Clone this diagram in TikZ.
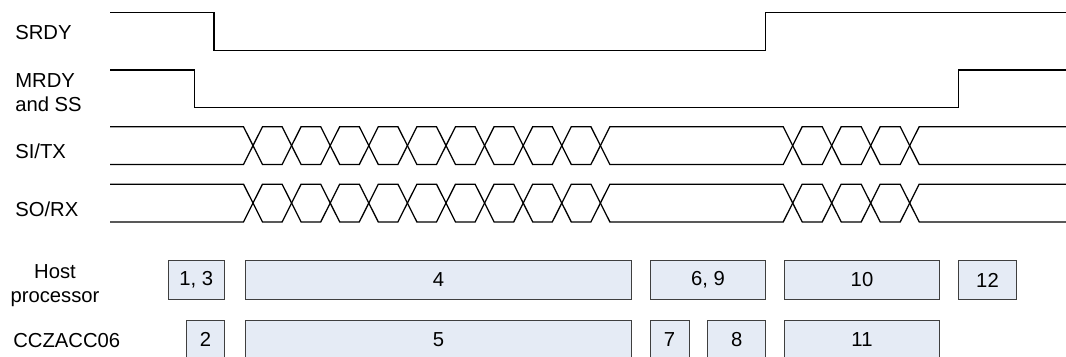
\documentclass[tikz,border=0pt]{standalone}
\usepackage{fontspec}
\setmainfont{Liberation Sans}
\usepackage{xcolor}
\usepackage{tikz}
\definecolor{tdfill}{HTML}{E5EBF5}
\definecolor{tdline}{HTML}{3F3F3F}
\tikzset{
  sig/.style={draw=black, line width=0.9pt, line join=miter},
  lbl/.style={font=\fontsize{14.4}{17}\selectfont, inner sep=0pt},
  tbox/.style={rectangle, draw=tdline, fill=tdfill, line width=0.7pt,
               inner sep=0pt, minimum height=0.96cm, font=\fontsize{14.4}{17}\selectfont},
}

\begin{document}
\begin{tikzpicture}[x=0.025cm, y=-0.025cm]
\useasboundingbox (0,0) rectangle (1066,356);

% --- signal names
\node[lbl,anchor=base west] (nsrdy) at (15,39.3) {SRDY};
\node[lbl,anchor=base west,align=left] (nmrdy) at (15,111.7) {MRDY\\and SS};
\node[lbl,anchor=base west] (nsi) at (15,158.3) {SI/TX};
\node[lbl,anchor=base west] (nso) at (15,216) {SO/RX};
\node[lbl,align=center] (nhost) at (55,285.5) {Host\\processor};
\node[lbl,anchor=base west] (ncc) at (13,347.3) {CCZACC06};

% --- handshake lines
\draw[sig] (110,12.3) -| (214,50.3) -| (765.7,12.3) -- (1066,12.3);
\draw[sig] (110,70) -| (194.3,107.7) -| (958.3,70) -- (1066,70);

% --- data buses (14 bit changes)
\foreach \ym in {145.6,203.05}{
  \foreach \s in {1,-1}
    \draw[sig] (110,\ym-\s*18.9)
      \foreach \c [count=\i] in {253,291.6,330.2,368.8,407.4,446,484.6,523.2,561.8,600.4,792.7,831.7,870.7,909.7}{
        -- ({\c-9.5},{\ym+\s*18.9*cos(180*\i)}) -- ({\c+9.5},{\ym-\s*18.9*cos(180*\i)})
      } -- (1066,\ym-\s*18.9);
}

% --- steps, host processor
\node[tbox,minimum width=1.39cm] (h13) at (196.2,280) {1, 3};
\node[tbox,minimum width=9.625cm] (h4) at (438.5,280) {4};
\node[tbox,minimum width=2.89cm] (h69) at (707.9,280) {6, 9};
\node[tbox,minimum width=3.865cm] (h10) at (862,280) {10};
\node[tbox,minimum width=1.46cm] (h12) at (987.5,280) {12};

% --- steps, CCZACC06
\node[tbox,minimum width=0.93cm] (c2) at (205.4,339.2) {2};
\node[tbox,minimum width=9.625cm] (c5) at (438.5,339.2) {5};
\node[tbox,minimum width=0.975cm] (c7) at (669.5,339.2) {7};
\node[tbox,minimum width=1.45cm] (c8) at (736.7,339.2) {8};
\node[tbox,minimum width=3.865cm] (c11) at (862,339.2) {11};
\end{tikzpicture}
\end{document}
